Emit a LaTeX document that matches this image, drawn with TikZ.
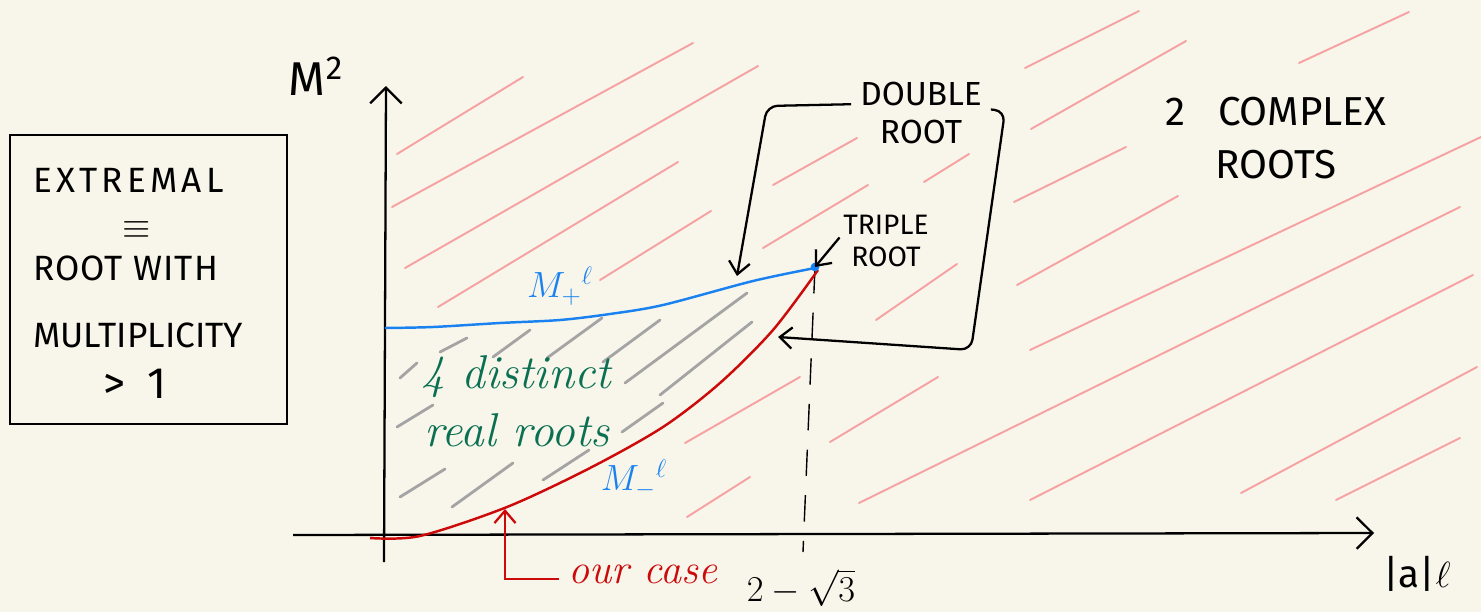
\documentclass[tikz,border=0pt]{standalone}
\usepackage{fontspec}
\usetikzlibrary{arrows.meta}
\newfontfamily\sketchfont{Fira Sans}
\definecolor{paper}{HTML}{F8F6EB}
\definecolor{hatchpink}{HTML}{F6A2A2}
\definecolor{hatchgray}{HTML}{A4A4A4}
\definecolor{plusblue}{HTML}{1A82F0}
\definecolor{minusred}{HTML}{CC0A0A}
\definecolor{rootgreen}{HTML}{0B7052}
\newcommand{\sketchsize}[1]{\fontsize{#1}{1.15\dimexpr#1pt\relax}\selectfont}

\begin{document}
\begin{tikzpicture}[
  x=0.02cm,
  y=-0.02cm,
  every node/.style={font=\sketchfont\sketchsize{20}, black, inner sep=0pt},
  axis/.style={black, line width=1.3pt,
    -{Straight Barb[length=9pt, width=18pt, line width=1.3pt]}},
  pinkhatch/.style={hatchpink, line width=1.1pt, line cap=round},
  grayhatch/.style={hatchgray, line width=1.6pt, line cap=round},
  pointer/.style={black, line width=1.3pt, rounded corners=6pt,
    -{Straight Barb[length=7pt, width=12pt, line width=1.3pt]}},
  curve/.style={line width=1.4pt},
  guide/.style={black, line width=0.8pt, dash pattern=on 15pt off 11pt},
  cursive/.style={font=\rmfamily\itshape\sketchsize{#1}}
]
\fill[paper] (0,0) rectangle (1481,612);
\useasboundingbox (0,0) rectangle (1481,612);

% =====================================================================
% hatching: complex roots (pink) and four real roots (gray)
% =====================================================================
\foreach \xa/\ya/\xb/\yb in {397/154/523/77, 392/207/693/43, 405/268/758/66,
    438/307/678/162, 600/280/711/211, 773/185/857/138, 763/248/868/185,
    924/182/969/154, 876/320/957/264, 1025/68/1139/11, 1031/129/1186/41,
    1299/63/1409/12, 1014/202/1126/147, 1017/285/1178/196,
    1030/350/1481/137, 859/503/1460/207, 1030/500/1473/275,
    830/442/938/377, 1241/493/1477/367, 1336/500/1460/438,
    685/443/800/377, 687/517/750/477}
  \draw[pinkhatch] (\xa,\ya) -- (\xb,\yb);

\foreach \xa/\ya/\xb/\yb in {400/378/417/363, 440/352/467/338,
    493/357/530/330, 547/358/602/318, 603/362/660/320, 625/383/747/293,
    660/395/752/322, 397/427/433/405, 622/432/663/403, 400/497/445/469,
    452/507/513/463, 543/480/589/450}
  \draw[grayhatch] (\xa,\ya) -- (\xb,\yb);

% =====================================================================
% legend box
% =====================================================================
\draw[line width=1.3pt] (10,135) rectangle (287,424);
\node[anchor=west] (extremal) at (33,180)
  {\addfontfeature{LetterSpace=12}EXTREMAL};
\node (equiv) at (137,230) {$\equiv$};
\node[anchor=west] (rootwith) at (33,268)
  {\addfontfeature{LetterSpace=3}ROOT WITH};
\node[anchor=west] (multiplicity) at (33,335) {MULTIPLICITY};
\node[anchor=west, font=\sketchfont\sketchsize{25}] (gtone) at (103,384)
  {>\enspace 1};

% =====================================================================
% axes
% =====================================================================
\coordinate (ybot) at (384,562);
\coordinate (ytop) at (386,86);
\coordinate (xleft) at (293,535);
\coordinate (xright) at (1374,533);
\draw[axis] (ybot) -- (ytop);
\draw[axis] (xleft) -- (xright);
\node[font=\sketchfont\sketchsize{27}] (mlabel) at (316,76) {M\textsuperscript{2}};
\node[anchor=west, font=\sketchfont\sketchsize{22}] (alabel) at (1383,574)
  {|a|$\ell$};

\coordinate (tripletip) at (815,267);
\coordinate (tick) at (803,552);
\draw[guide] (tripletip) -- (tick);
\node[font=\sketchsize{21}] (rootval) at (801,588) {$2-\sqrt{3}$};

% =====================================================================
% the two branches
% =====================================================================
\draw[curve, plusblue] plot[smooth] coordinates {(385,328) (433,327)
  (500,323) (560,320) (610,314) (663,305) (753,281) (815,268)};
\draw[curve, minusred] plot[smooth] coordinates {(370,538) (420,536)
  (507,507) (590,468) (663,427) (720,383) (773,330) (818,270)};
\fill[plusblue] (tripletip) circle (2.5pt);

\node[plusblue, font=\sketchsize{22}] (mplus) at (560,286)
  {$M_{+}{}^{\ell}$};
\node[plusblue, font=\sketchsize{22}] (mminus) at (634,479)
  {$M_{-}{}^{\ell}$};

\node[rootgreen, cursive=27] (fourdistinct) at (516,377) {4 distinct};
\node[rootgreen, cursive=27] (realroots) at (517,430) {real roots};

% =====================================================================
% annotations
% =====================================================================
\node[minusred, cursive=24, anchor=west] (ourcase) at (568,574) {our case};
\coordinate (ourpoint) at (505,509);
\draw[pointer, minusred, rounded corners=0pt]
  ([xshift=-5pt, yshift=-3pt]ourcase.west) -| (ourpoint);

\node[align=center, font=\sketchfont\sketchsize{19}] (double) at (921,113)
  {DOUBLE\\ROOT};
\coordinate (dblplus) at (737,276);
\coordinate (dblminus) at (778,337);
\draw[pointer] ([xshift=-5pt, yshift=5pt]double.west) -- (767,106)
  -- (dblplus);
\draw[pointer] ([xshift=5pt, yshift=2pt]double.east) -- (1005,111)
  -- (971,350) -- (dblminus);

\node[align=center, font=\sketchfont\sketchsize{16}] (triple) at (886,241)
  {TRIPLE\\ROOT};
\draw[pointer] ([xshift=-2pt, yshift=2pt]triple.west) -- (tripletip);

\node[align=center, font=\sketchfont\sketchsize{23}] (complex) at (1276,138)
  {2\ \ \ COMPLEX\\[4pt]ROOTS};

\end{tikzpicture}
\end{document}
